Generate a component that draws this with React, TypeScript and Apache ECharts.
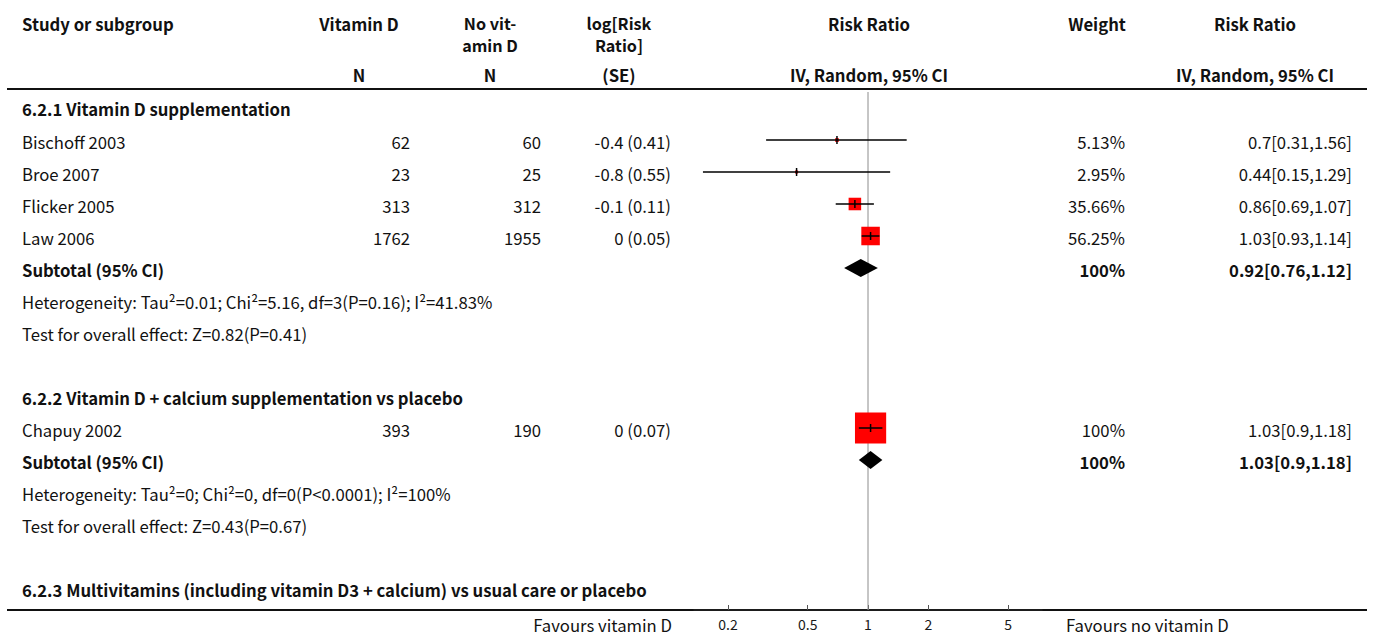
import React, { useEffect, useRef } from "react";
import * as echarts from "echarts";

// ---------- data ----------
const studies = ["Bischoff 2003", "Broe 2007", "Flicker 2005", "Law 2006", "Chapuy 2002"];
const studyRow = [1, 2, 3, 4, 10];
const nVitD = [62, 23, 313, 1762, 393];
const nNoVitD = [60, 25, 312, 1955, 190];
const logRR = ["-0.4", "-0.8", "-0.1", "0", "0"];
const seLogRR = ["0.41", "0.55", "0.11", "0.05", "0.07"];
const rr = [0.7, 0.44, 0.86, 1.03, 1.03];
const rrLow = [0.31, 0.15, 0.69, 0.93, 0.9];
const rrHigh = [1.56, 1.29, 1.07, 1.14, 1.18];
const weights = [5.13, 2.95, 35.66, 56.25, 100];

const subRow = [5, 11];
const subRR = [0.92, 1.03];
const subLow = [0.76, 0.9];
const subHigh = [1.12, 1.18];
const subWeight = [100, 100];

const groupTitles = [
  "6.2.1 Vitamin D supplementation",
  "6.2.2 Vitamin D + calcium supplementation vs placebo",
  "6.2.3 Multivitamins (including vitamin D3 + calcium) vs usual care or placebo",
];
const groupRow = [0, 9, 15];

const hetTexts = [
  "Heterogeneity: Tau²=0.01; Chi²=5.16, df=3(P=0.16); I²=41.83%",
  "Heterogeneity: Tau²=0; Chi²=0, df=0(P<0.0001); I²=100%",
];
const hetRow = [6, 12];
const testTexts = ["Test for overall effect: Z=0.82(P=0.41)", "Test for overall effect: Z=0.43(P=0.67)"];
const testRow = [7, 13];

const tickValues = [0.2, 0.5, 1, 2, 5];
const favoursLeft = "Favours vitamin D";
const favoursRight = "Favours no vitamin D";

// ---------- layout ----------
const W = 1375;
const H = 637;
const FONT = '"Noto Sans CJK SC", "Source Sans Pro", "Noto Sans", sans-serif';
const FS = 16.7;
const rowY = (r: number) => (r === 0 ? 109 : 110 + 32 * r);
const TXT = "#111";

function txt(text: string, x: number, y: number, align: string, bold = false, size = FS, lineHeight = 20) {
  return {
    type: "text",
    silent: true,
    style: {
      text,
      x,
      y,
      textAlign: align,
      textVerticalAlign: "middle",
      lineHeight,
      font: `${bold ? "bold " : ""}${size}px ${FONT}`,
      fill: TXT,
    },
  };
}

export default function App() {
  const ref = useRef<HTMLDivElement>(null);
  useEffect(() => {
    if (!ref.current) return;
    const chart = echarts.init(ref.current, undefined, { renderer: "svg" });
    const ln = Math.log;

    const g: any[] = [];
    // header
    g.push(txt("Study or subgroup", 22, 24, "left", true));
    g.push(txt("Vitamin D", 359, 24, "center", true));
    g.push(txt("N", 359, 75, "center", true));
    g.push(txt("No vit-\namin D", 490, 34, "center", true, 16.2, 22));
    g.push(txt("N", 490, 75, "center", true));
    g.push(txt("log[Risk\nRatio]", 619, 34, "center", true, 16.2, 22));
    g.push(txt("(SE)", 619, 75, "center", true));
    g.push(txt("Risk Ratio", 869, 24, "center", true));
    g.push(txt("IV, Random, 95% CI", 869, 75, "center", true));
    g.push(txt("Weight", 1097, 24, "center", true));
    g.push(txt("Risk Ratio", 1255, 24, "center", true));
    g.push(txt("IV, Random, 95% CI", 1255, 75, "center", true));
    g.push({ type: "line", silent: true, shape: { x1: 7, y1: 89, x2: 1367, y2: 89 }, style: { stroke: "#111", lineWidth: 2 } });
    g.push({ type: "line", silent: true, shape: { x1: 7, y1: 610, x2: 1367, y2: 610 }, style: { stroke: "#111", lineWidth: 2 } });

    groupTitles.forEach((t, i) => g.push(txt(t, 22, rowY(groupRow[i]), "left", true)));
    studies.forEach((s, i) => {
      const y = rowY(studyRow[i]);
      g.push(txt(s, 22, y, "left"));
      g.push(txt(String(nVitD[i]), 410, y, "right"));
      g.push(txt(String(nNoVitD[i]), 541, y, "right"));
      g.push(txt(`${logRR[i]} (${seLogRR[i]})`, 671, y, "right"));
      g.push(txt(`${weights[i]}%`, 1125, y, "right"));
      g.push(txt(`${rr[i]}[${rrLow[i]},${rrHigh[i]}]`, 1352, y, "right"));
    });
    subRow.forEach((r, i) => {
      const y = rowY(r);
      g.push(txt("Subtotal (95% CI)", 22, y, "left", true));
      g.push(txt(`${subWeight[i]}%`, 1125, y, "right", true));
      g.push(txt(`${subRR[i]}[${subLow[i]},${subHigh[i]}]`, 1352, y, "right", true));
    });
    hetTexts.forEach((t, i) => g.push(txt(t, 22, rowY(hetRow[i]), "left")));
    testTexts.forEach((t, i) => g.push(txt(t, 22, rowY(testRow[i]), "left")));
    g.push(txt(favoursLeft, 672, 625, "right"));
    g.push(txt(favoursRight, 1066, 625, "left"));

    const tickLn = tickValues.map((v) => ln(v));

    const option: any = {
      animation: false,
      backgroundColor: "#fff",
      grid: { left: 694, right: W - 1042, top: 92, bottom: H - 610, containLabel: false },
      xAxis: {
        type: "value",
        min: -2,
        max: 2,
        axisLine: { show: true, onZero: false, lineStyle: { color: "#222", width: 1.5 } },
        axisTick: { show: true, inside: true, length: 5, customValues: tickLn, lineStyle: { color: "#555", width: 1 } },
        axisLabel: {
          show: true,
          customValues: tickLn,
          margin: 7,
          fontSize: 14,
          fontFamily: FONT,
          color: "#1a1a1a",
          formatter: (v: number) => String(parseFloat(Math.exp(v).toFixed(2))),
        },
        splitLine: { show: false },
      },
      yAxis: { type: "value", min: -0.5, max: 15.6875, inverse: true, show: false },
      graphic: g,
      series: [
        {
          type: "line",
          data: [
            [0, -0.5],
            [0, 15.6875],
          ],
          symbol: "none",
          lineStyle: { color: "#8c8c8c", width: 1 },
          silent: true,
          z: 1,
        },
        {
          type: "custom",
          z: 3,
          silent: true,
          data: studies.map((_, i) => [ln(rr[i]), studyRow[i], ln(rrLow[i]), ln(rrHigh[i]), weights[i]]),
          renderItem: (params: any, api: any) => {
            const p = api.coord([api.value(0), api.value(1)]);
            const lo = api.coord([api.value(2), api.value(1)]);
            const hi = api.coord([api.value(3), api.value(1)]);
            const s = 0.29 * api.value(4) + 2.2;
            return {
              type: "group",
              children: [
                { type: "rect", shape: { x: p[0] - s / 2, y: p[1] - s / 2, width: s, height: s }, style: { fill: "#ff0000" } },
                { type: "line", shape: { x1: lo[0], y1: p[1], x2: hi[0], y2: p[1] }, style: { stroke: "#000", lineWidth: 1.5 } },
                { type: "line", shape: { x1: p[0], y1: p[1] - 4, x2: p[0], y2: p[1] + 4 }, style: { stroke: "#000", lineWidth: 1.5 } },
              ],
            };
          },
        },
        {
          type: "custom",
          z: 3,
          silent: true,
          data: subRow.map((r, i) => [ln(subRR[i]), r, ln(subLow[i]), ln(subHigh[i])]),
          renderItem: (params: any, api: any) => {
            const p = api.coord([api.value(0), api.value(1)]);
            const lo = api.coord([api.value(2), api.value(1)]);
            const hi = api.coord([api.value(3), api.value(1)]);
            return {
              type: "polygon",
              shape: { points: [[lo[0], p[1]], [p[0], p[1] - 9], [hi[0], p[1]], [p[0], p[1] + 9]] },
              style: { fill: "#000" },
            };
          },
        },
      ],
    };
    chart.setOption(option);
    return () => chart.dispose();
  }, []);
  return <div ref={ref} style={{ position: "fixed", left: 0, top: 0, width: W, height: H, background: "#fff" }} />;
}
